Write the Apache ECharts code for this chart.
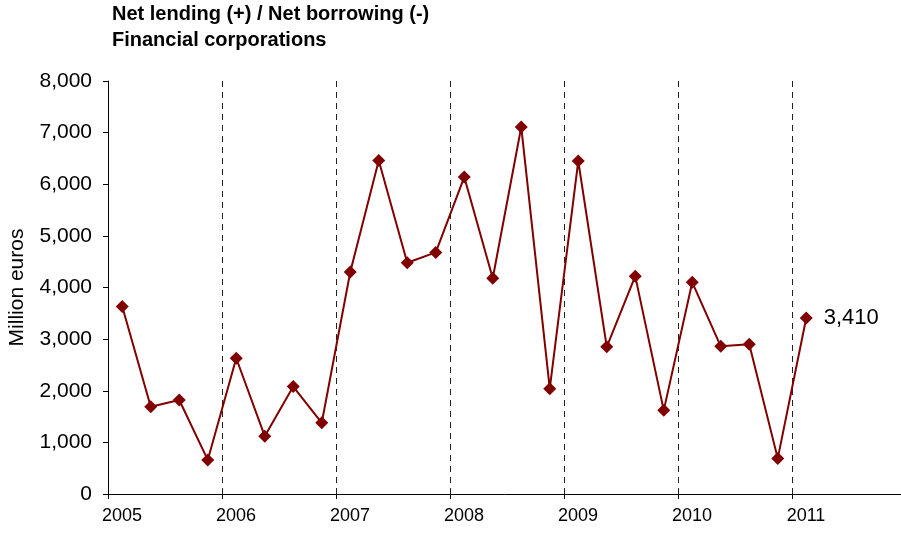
<!DOCTYPE html>
<html>
<head>
<meta charset="utf-8">
<script src="https://cdn.jsdelivr.net/npm/echarts@6/dist/echarts.min.js"></script>
<style>
  html, body { margin: 0; padding: 0; background: #fff; }
  #chart { width: 901px; height: 540px; }
</style>
</head>
<body>
<div id="chart"></div>
<script>
// quarterly net lending, million euros
let quarters = [
    '2005Q1', '2005Q2', '2005Q3', '2005Q4',
    '2006Q1', '2006Q2', '2006Q3', '2006Q4',
    '2007Q1', '2007Q2', '2007Q3', '2007Q4',
    '2008Q1', '2008Q2', '2008Q3', '2008Q4',
    '2009Q1', '2009Q2', '2009Q3', '2009Q4',
    '2010Q1', '2010Q2', '2010Q3', '2010Q4',
    '2011Q1'
];
let values = [
    3630, 1690, 1820, 660,
    2630, 1120, 2080, 1380,
    4300, 6460, 4480, 4680,
    6140, 4180, 7110, 2040,
    6450, 2850, 4220, 1620,
    4100, 2860, 2900, 690,
    3410
];
let yearLabels = [2005, 2006, 2007, 2008, 2009, 2010, 2011];

let font = 'Liberation Sans, Arial, sans-serif';

// place each quarter in the middle of its quarter on a year scale
function quarterPos(q) {
    let year = parseInt(q.slice(0, 4));
    let n = parseInt(q.slice(5));
    return year + (n - 1) / 4 + 0.125;
}

let seriesData = quarters.map(function (q, i) {
    let item = { value: [quarterPos(q), values[i]] };
    if (i === quarters.length - 1) {
        item.label = {
            show: true,
            position: 'right',
            distance: 11,
            color: '#000',
            fontSize: 22,
            fontFamily: font,
            formatter: function (p) { return p.value[1].toLocaleString('en-US'); }
        };
    }
    return item;
});

let option = {
    animation: false,
    backgroundColor: '#fff',
    title: {
        text: 'Net lending (+) / Net borrowing (-)\nFinancial corporations',
        left: 112,
        top: 1,
        padding: 0,
        textStyle: {
            fontFamily: font,
            fontWeight: 'bold',
            fontSize: 20,
            lineHeight: 26,
            color: '#000'
        }
    },
    grid: {
        left: 108,
        right: -5,
        top: 81,
        bottom: 46,
        containLabel: false,
        outerBoundsMode: 'none'
    },
    xAxis: {
        type: 'value',
        min: yearLabels[0],
        max: 2012,
        interval: 1,
        axisLine: { show: true, lineStyle: { color: '#000', width: 1 } },
        axisTick: { show: true, length: 5, inside: false, lineStyle: { color: '#000' } },
        splitLine: {
            show: true,
            lineStyle: { color: '#222', type: [6, 5], width: 1 }
        },
        axisLabel: {
            margin: 13,
            fontSize: 18,
            color: '#000',
            fontFamily: font,
            padding: [0, 0, 0, 28],
            showMaxLabel: false,
            formatter: function (v) {
                return yearLabels.indexOf(v) >= 0 ? String(v) : '';
            }
        }
    },
    yAxis: {
        type: 'value',
        min: 0,
        max: 8000,
        interval: 1000,
        name: 'Million euros',
        nameLocation: 'middle',
        nameGap: 80,
        nameRotate: 90,
        nameTextStyle: {
            fontSize: 21,
            color: '#000',
            fontFamily: font
        },
        axisLine: { show: true, lineStyle: { color: '#000', width: 1 } },
        axisTick: { show: true, length: 5, lineStyle: { color: '#000' } },
        splitLine: { show: false },
        axisLabel: {
            margin: 16,
            fontSize: 21,
            color: '#000',
            fontFamily: font,
            formatter: function (v) { return v.toLocaleString('en-US'); }
        }
    },
    series: [{
        name: 'Net lending',
        type: 'line',
        data: seriesData,
        symbol: 'diamond',
        symbolSize: 13,
        itemStyle: { color: '#800000' },
        lineStyle: { color: '#800000', width: 2 }
    }]
};

let chart = echarts.init(document.getElementById('chart'));
chart.setOption(option);
</script>
</body>
</html>
